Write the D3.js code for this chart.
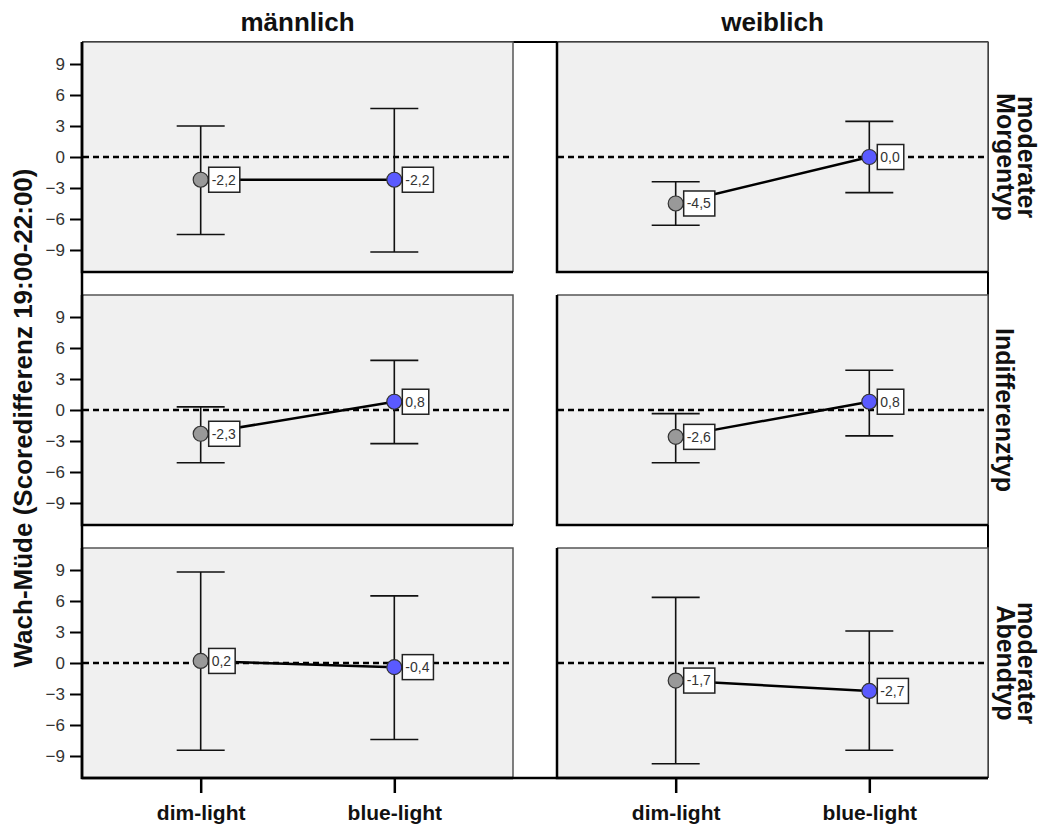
<!DOCTYPE html>
<html>
<head>
<meta charset="utf-8">
<script src="https://cdn.jsdelivr.net/npm/d3@7"></script>
<style>
  body { margin: 0; background: #fff; }
  text { font-family: "Liberation Sans", Arial, sans-serif; }
</style>
</head>
<body>
<script>
// data (Mittelwert + 95% CI)
const sexes = ['männlich', 'weiblich']
const types = [['moderater', 'Morgentyp'], ['Indifferenztyp'], ['moderater', 'Abendtyp']]
const conditions = ['dim-light', 'blue-light']
const yTicks = [-9, -6, -3, 0, 3, 6, 9]

// rows = chronotype, inner = [dim-light, blue-light]
const meanMale = [[-2.2, -2.2], [-2.3, 0.8], [0.2, -0.4]]
const lowMale = [[-7.5, -9.2], [-5.1, -3.25], [-8.45, -7.4]]
const highMale = [[3.0, 4.7], [0.3, 4.8], [8.8, 6.5]]

const meanFemale = [[-4.5, 0.0], [-2.6, 0.8], [-1.7, -2.7]]
const lowFemale = [[-6.6, -3.45], [-5.1, -2.5], [-9.75, -8.45]]
const highFemale = [[-2.4, 3.45], [-0.35, 3.85], [6.35, 3.1]]

const W = 1043, H = 828
const padL = 82, padT = 42
const colW = 431, colGap = 44
const rowH = 230, rowGap = 23
const edgeR = padL + 2 * colW + colGap
const edgeB = padT + 3 * rowH + 2 * rowGap

const svg = d3.select('body').append('svg').attr('width', W).attr('height', H)

const means = [meanMale, meanFemale]
const lows = [lowMale, lowFemale]
const highs = [highMale, highFemale]

const fmt = v => v.toFixed(1).replace('.', ',')
const colors = { 'dim-light': '#999999', 'blue-light': '#5a5aff' }

// outer frame
svg.append('line').attr('x1', padL).attr('x2', edgeR).attr('y1', padT).attr('y2', padT)
  .attr('stroke', '#000').attr('stroke-width', 2)
svg.append('line').attr('x1', edgeR).attr('x2', edgeR).attr('y1', padT).attr('y2', edgeB)
  .attr('stroke', '#000').attr('stroke-width', 2)

for (let c = 0; c < 2; c++) {
  const x0 = padL + c * (colW + colGap)
  const x = d3.scalePoint().domain(conditions).range([x0, x0 + colW]).padding(0.613)

  for (let r = 0; r < 3; r++) {
    const y0 = padT + r * (rowH + rowGap)
    const y = d3.scaleLinear().domain([-11.13, 11.13]).range([y0 + rowH, y0])
    const g = svg.append('g')

    g.append('rect').attr('x', x0).attr('y', y0).attr('width', colW).attr('height', rowH)
      .attr('fill', '#f0f0f0')
    // light top/right edges, heavy left/bottom edges
    g.append('path').attr('d', `M${x0},${y0}H${x0 + colW}V${y0 + rowH}`)
      .attr('fill', 'none').attr('stroke', '#555').attr('stroke-width', 1.5)
    g.append('path').attr('d', `M${x0},${y0}V${y0 + rowH}H${x0 + colW}`)
      .attr('fill', 'none').attr('stroke', '#000').attr('stroke-width', 2.5)

    // reference line at 0
    g.append('line').attr('x1', x0 + 1).attr('x2', x0 + colW).attr('y1', y(0)).attr('y2', y(0))
      .attr('stroke', '#000').attr('stroke-width', 2.5).attr('stroke-dasharray', '6,4')

    if (c === 0) {
      const ax = g.append('g').attr('transform', `translate(${x0},0)`)
        .call(d3.axisLeft(y).tickValues(yTicks).tickSize(12).tickPadding(5))
      ax.select('.domain').remove()
      ax.selectAll('.tick line').attr('stroke', '#000').attr('stroke-width', 2)
      ax.selectAll('.tick text').attr('font-size', 17).attr('fill', '#333')
        .style('font-family', '"Liberation Sans", Arial, sans-serif')
    }

    if (r === 2) {
      const ax = g.append('g').attr('transform', `translate(0,${y0 + rowH})`)
        .call(d3.axisBottom(x).tickSize(15).tickPadding(12))
      ax.select('.domain').remove()
      ax.selectAll('.tick line').attr('stroke', '#000').attr('stroke-width', 2.5)
      ax.selectAll('.tick text').attr('font-size', 21).attr('font-weight', 'bold').attr('fill', '#111')
        .style('font-family', '"Liberation Sans", Arial, sans-serif')
    }

    const pts = conditions.map((k, i) => ({
      k: k, m: means[c][r][i], lo: lows[c][r][i], hi: highs[c][r][i]
    }))

    // error bars
    pts.forEach(d => {
      const cx = x(d.k)
      g.append('path')
        .attr('d', `M${cx - 24},${y(d.hi)}H${cx + 24}M${cx},${y(d.hi)}V${y(d.lo)}M${cx - 24},${y(d.lo)}H${cx + 24}`)
        .attr('fill', 'none').attr('stroke', '#111').attr('stroke-width', 1.6)
    })

    // line between means
    g.append('path')
      .datum(pts)
      .attr('d', d3.line().x(d => x(d.k)).y(d => y(d.m)))
      .attr('fill', 'none').attr('stroke', '#000').attr('stroke-width', 2.5)

    g.selectAll('circle')
      .data(pts)
      .enter()
      .append('circle')
      .attr('cx', d => x(d.k))
      .attr('cy', d => y(d.m))
      .attr('r', 7.5)
      .attr('fill', d => colors[d.k])
      .attr('stroke', '#333')
      .attr('stroke-width', 1.2)

    // value labels
    pts.forEach(d => {
      const lg = g.append('g').attr('transform', `translate(${x(d.k) + 8},${y(d.m)})`)
      const box = lg.append('rect').attr('y', -12.5).attr('height', 25)
        .attr('fill', '#fff').attr('stroke', '#222').attr('stroke-width', 1.5)
      const t = lg.append('text').attr('x', 3).attr('dy', '0.35em')
        .attr('font-size', 14).attr('fill', '#333').text(fmt(d.m))
      const tw = t.node().getComputedTextLength()
      box.attr('width', tw + 7)
    })

    if (c === 1) {
      const lines = types[r]
      const cy = y0 + rowH / 2
      const bases = lines.length === 2 ? [1018, 997] : [996]
      lines.forEach((s, i) => {
        svg.append('text')
          .attr('transform', `translate(${bases[i]},${cy}) rotate(90)`)
          .attr('text-anchor', 'middle')
          .attr('font-size', 25).attr('font-weight', 'bold').attr('fill', '#111')
          .text(s)
      })
    }
  }

  svg.append('text')
    .attr('x', x0 + colW / 2).attr('y', 31)
    .attr('text-anchor', 'middle')
    .attr('font-size', 26).attr('font-weight', 'bold').attr('fill', '#111')
    .text(sexes[c])
}

// left and bottom axis lines
svg.append('line').attr('x1', padL).attr('x2', padL).attr('y1', padT).attr('y2', edgeB + 1)
  .attr('stroke', '#000').attr('stroke-width', 2.5)
svg.append('line').attr('x1', padL).attr('x2', edgeR).attr('y1', edgeB).attr('y2', edgeB)
  .attr('stroke', '#000').attr('stroke-width', 2.5)

svg.append('text')
  .attr('transform', `translate(32,${(padT + edgeB) / 2 + 8}) rotate(-90)`)
  .attr('text-anchor', 'middle')
  .attr('font-size', 26).attr('font-weight', 'bold').attr('fill', '#111')
  .text('Wach-Müde (Scoredifferenz 19:00-22:00)')
</script>
</body>
</html>
